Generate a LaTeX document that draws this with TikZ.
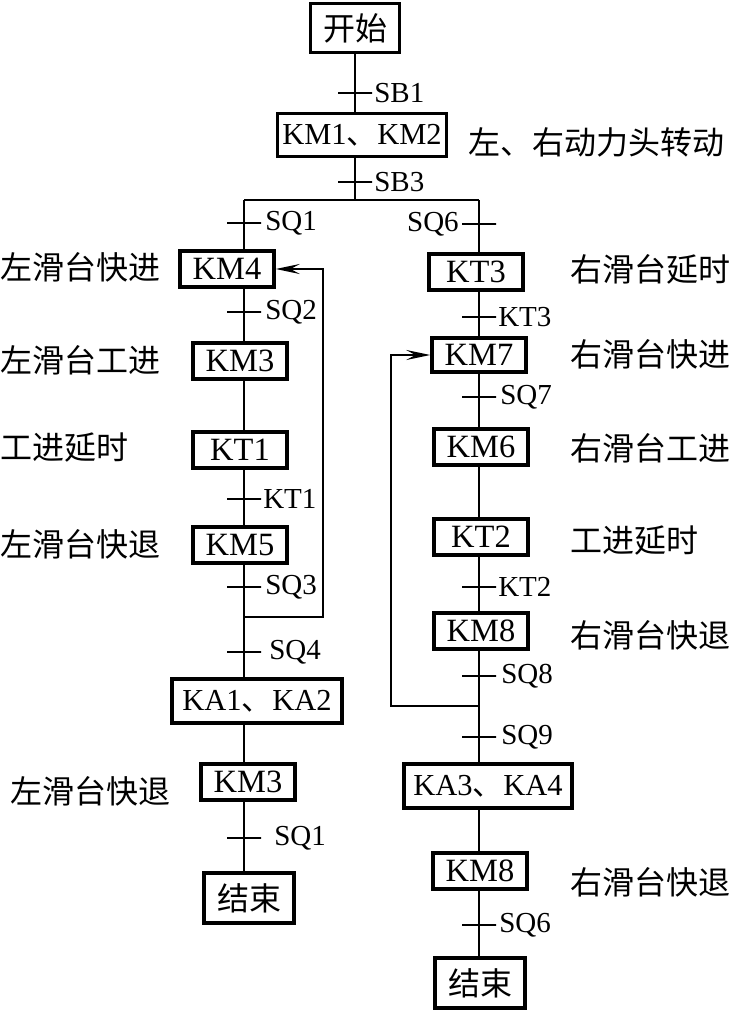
\documentclass[tikz,border=0pt]{standalone}
\usepackage{fontspec}
\setmainfont{Liberation Serif}
\newfontfamily\cjk{Noto Sans CJK SC}
\usetikzlibrary{arrows.meta}
\newcommand\zh[1]{{\cjk #1}}
\tikzset{
  box/.style={draw, line width=3.4pt, fill=white, inner sep=0pt, minimum width=94pt, minimum height=36pt, font=\fontsize{32.5}{34}\selectfont},
  widebox/.style={box, font=\fontsize{30.5}{33}\selectfont, minimum height=44pt},
  trans/.style={draw, rectangle, line width=2.2pt, minimum width=34pt, minimum height=0pt, inner sep=0pt},
  lab/.style={font=\fontsize{29}{30}\selectfont, inner sep=0pt},
  cn/.style={font=\cjk\fontsize{32}{34}\selectfont, inner sep=0pt, anchor=west},
  conn/.style={line width=2.2pt},
  arr/.style={line width=2.2pt, -{Stealth[length=24pt, width=10pt, inset=9pt]}}
}
\begin{document}
\begin{tikzpicture}[x=1pt, y=-1pt]
\useasboundingbox (0,0) rectangle (735,1011);
% line positions
\coordinate (xM) at (355,0);
\coordinate (xL) at (244,0);
\coordinate (xR) at (479,0);
\coordinate (bM) at (355,200);
\coordinate (bL) at (244,200);
\coordinate (bR) at (479,200);
\coordinate (jL) at (244,617);
\coordinate (fL) at (323,617);
\coordinate (jR) at (479,706);
\coordinate (fR) at (391,706);

% boxes
\node[box, minimum width=89pt, minimum height=49pt, font=\cjk\fontsize{32}{34}\selectfont] (start) at (355,28) {开始};
\node[widebox, minimum width=169pt, minimum height=43pt] (km12) at (362,135) {KM1\zh{、}KM2};
\node[box] (km4) at (227,269) {KM4};
\node[box] (km3a) at (240,361) {KM3};
\node[box] (kt1) at (240,450) {KT1};
\node[box] (km5) at (240,545) {KM5};
\node[widebox, minimum width=170pt] (ka12) at (257,701) {KA1\zh{、}KA2};
\node[box] (km3b) at (248,782) {KM3};
\node[box, minimum width=90pt, minimum height=50pt, font=\cjk\fontsize{32}{34}\selectfont] (endL) at (249,898) {结束};

\node[box] (kt3) at (476,272) {KT3};
\node[box, minimum height=34pt] (km7) at (479,355) {KM7};
\node[box] (km6) at (481,447) {KM6};
\node[box] (kt2) at (481,537) {KT2};
\node[box] (km8a) at (481,631) {KM8};
\node[widebox, minimum width=168pt] (ka34) at (488,786) {KA3\zh{、}KA4};
\node[box] (km8b) at (480,871) {KM8};
\node[box, minimum width=90pt, minimum height=50pt, font=\cjk\fontsize{32}{34}\selectfont] (endR) at (480,983) {结束};

% connectors
\draw[conn] (start.south -| xM) -- (km12.north -| xM);
\draw[conn] (km12.south -| xM) -- (bM);
\draw[conn] (bL) -- (bR);
\draw[conn] (bL) -- (km4.north -| xL);
\draw[conn] (km4.south -| xL) -- (km3a.north -| xL);
\draw[conn] (km3a.south -| xL) -- (kt1.north -| xL);
\draw[conn] (kt1.south -| xL) -- (km5.north -| xL);
\draw[conn] (km5.south -| xL) -- (jL);
\draw[conn] (jL) -- (ka12.north -| xL);
\draw[conn] (ka12.south -| xL) -- (km3b.north -| xL);
\draw[conn] (km3b.south -| xL) -- (endL.north -| xL);
\draw[arr] (jL) -- (fL) |- (km4.east);

\draw[conn] (bR) -- (kt3.north -| xR);
\draw[conn] (kt3.south -| xR) -- (km7.north -| xR);
\draw[conn] (km7.south -| xR) -- (km6.north -| xR);
\draw[conn] (km6.south -| xR) -- (kt2.north -| xR);
\draw[conn] (kt2.south -| xR) -- (km8a.north -| xR);
\draw[conn] (km8a.south -| xR) -- (jR);
\draw[conn] (jR) -- (ka34.north -| xR);
\draw[conn] (ka34.south -| xR) -- (km8b.north -| xR);
\draw[conn] (km8b.south -| xR) -- (endR.north -| xR);
\draw[arr] (jR) -- (fR) |- (km7.west);

% transitions
\node[trans, label={[lab, label distance=1pt]right:SB1}] (sb1) at (355,93) {};
\node[trans, label={[lab, label distance=1pt]right:SB3}] (sb3) at (355,182) {};
\node[trans, label={[lab, label distance=3pt]right:SQ1}] (sq1) at (244,223) {};
\node[trans, label={[lab, label distance=3pt]right:SQ2}] (sq2) at (244,312) {};
\node[trans, label={[lab, label distance=1pt]right:KT1}] (kt1t) at (244,499) {};
\node[trans, label={[lab, label distance=3pt]right:SQ3}] (sq3) at (244,587) {};
\node[trans, label={[lab, label distance=7pt]right:SQ4}] (sq4) at (244,652) {};
\node[trans, label={[lab, label distance=12pt]right:SQ1}] (sq1b) at (244,838) {};

\node[trans, label={[lab, label distance=2pt]left:SQ6}] (sq6) at (479,224) {};
\node[trans, label={[lab, label distance=1pt]right:KT3}] (kt3t) at (479,317) {};
\node[trans, label={[lab, label distance=3pt]right:SQ7}] (sq7) at (479,397) {};
\node[trans, label={[lab, label distance=1pt]right:KT2}] (kt2t) at (479,587) {};
\node[trans, label={[lab, label distance=4pt]right:SQ8}] (sq8) at (479,676) {};
\node[trans, label={[lab, label distance=4pt]right:SQ9}] (sq9) at (479,737) {};
\node[trans, label={[lab, label distance=2pt]right:SQ6}] (sq6b) at (479,925) {};

% side labels
\node[cn] (lt) at (468,142) {左、右动力头转动};
\node[cn] (l1) at (0,267) {左滑台快进};
\node[cn] (l2) at (0,360) {左滑台工进};
\node[cn] (l3) at (0,448) {工进延时};
\node[cn] (l4) at (0,544) {左滑台快退};
\node[cn] (l5) at (10,791) {左滑台快退};
\node[cn] (r1) at (570,269) {右滑台延时};
\node[cn] (r2) at (570,354) {右滑台快进};
\node[cn] (r3) at (570,448) {右滑台工进};
\node[cn] (r4) at (570,541) {工进延时};
\node[cn] (r5) at (570,635) {右滑台快退};
\node[cn] (r6) at (570,882) {右滑台快退};
\end{tikzpicture}
\end{document}
